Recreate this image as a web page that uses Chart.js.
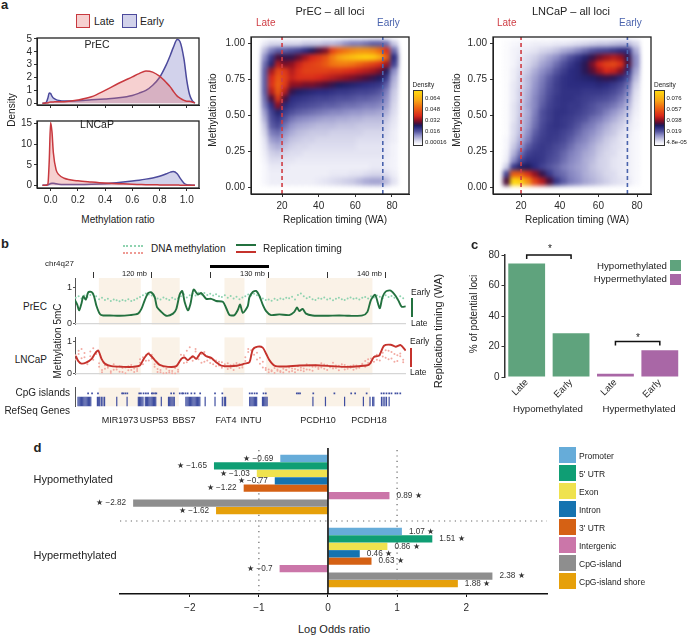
<!DOCTYPE html>
<html>
<head>
<meta charset="utf-8">
<script src="https://cdn.jsdelivr.net/npm/chart.js@4"></script>
<style>
  html, body { margin: 0; padding: 0; background: #fff; }
  #page { position: relative; width: 687px; height: 636px; overflow: hidden; font-family: "Liberation Sans", Arial, sans-serif; color: #222; }
  #page canvas { position: absolute; display: block; }
  .txt { position: absolute; white-space: nowrap; line-height: 1; }
  .block { position: absolute; }
</style>
</head>
<body>
<div id="page"></div>
<script>
// ---- panel a: density curves
const ratioGrid = [-0.06,-0.04,-0.03,-0.02,-0.01,0,0.01,0.02,0.04,0.06,0.1,0.2,0.3,0.4,0.5,0.6,0.65,0.7,0.75,0.8,0.85,0.88,0.9,0.93,0.95,0.98,1,1.02,1.04,1.06];
const precLate = [0,0.01,0.02,0.04,0.07,0.1,0.1,0.1,0.11,0.11,0.12,0.25,0.5,1.0,1.55,2.05,2.3,2.5,2.42,2.1,1.6,1.25,0.95,0.55,0.4,0.22,0.15,0.15,0.1,0.02];
const precEarly = [0,0.02,0.1,0.4,0.8,0.75,0.55,0.4,0.28,0.22,0.17,0.2,0.26,0.33,0.42,0.6,0.78,1.0,1.4,2.0,3.0,3.75,4.3,4.95,4.8,3.4,1.8,0.7,0.2,0.02];
const lncapLate = [0,0,0,0.3,6,15.3,13,8,3.8,2.6,1.7,1.1,0.8,0.55,0.4,0.25,0.2,0.15,0.12,0.1,0.08,0.06,0.05,0.05,0.04,0.03,0.03,0.02,0.01,0];
const lncapEarly = [0,0.02,0.05,0.1,0.25,0.45,0.5,0.5,0.35,0.25,0.2,0.2,0.25,0.4,0.7,1.05,1.25,1.5,1.8,2.2,2.8,3.2,3.35,2.8,1.8,0.5,0.15,0.05,0.01,0];

// ---- panel a: density maps, colour position 0-100, top row is ratio 1.00
const mapRatios = [1,0.95,0.9,0.85,0.8,0.75,0.7,0.65,0.6,0.55,0.5,0.45,0.4,0.35,0.3,0.25,0.2,0.15,0.1,0.05,0];
const precTiming = [8,12,16,20,24,28,32,36,40,44,48,52,56,60,64,68,72,76,80,84];
const precMap = [
  [5,8,8,8,8,8,10,10,10,12,12,14,18,20,20,22,24,24,22,10],
  [12,20,24,24,26,28,32,36,40,44,60,68,72,76,78,78,76,70,56,22],
  [18,30,40,38,38,42,48,54,58,64,74,82,88,92,96,98,96,86,68,32],
  [22,34,50,44,46,52,58,60,62,66,72,74,74,72,68,64,60,56,48,28],
  [24,48,62,58,50,56,60,60,60,60,58,58,56,54,52,50,48,44,36,18],
  [24,54,66,60,52,56,56,56,54,52,50,48,46,44,42,40,38,36,30,14],
  [24,56,68,58,46,46,44,44,42,40,38,36,35,34,33,32,31,30,24,12],
  [24,50,66,50,38,35,34,33,32,32,31,30,30,29,28,28,27,25,20,10],
  [22,40,58,40,32,31,30,29,28,28,27,26,26,25,24,24,23,22,18,9],
  [20,32,46,33,30,28,27,26,25,24,24,23,22,22,21,20,20,19,16,8],
  [16,28,34,29,26,24,23,22,21,20,19,19,18,17,17,16,16,15,13,7],
  [13,26,30,25,21,19,18,17,16,15,15,14,14,13,13,12,12,12,10,6],
  [10,24,27,21,17,15,14,13,12,12,12,11,11,11,10,10,10,10,8,5],
  [8,20,22,17,14,12,11,10,10,10,9,9,9,9,9,8,8,8,7,4],
  [6,16,18,14,11,10,9,9,8,8,8,8,8,8,7,7,7,7,6,4],
  [5,12,14,11,9,8,8,7,7,7,7,7,7,7,6,6,6,6,5,3],
  [4,9,10,8,7,7,6,6,6,6,6,6,6,6,6,6,6,6,5,3],
  [3,7,7,6,6,5,5,5,5,5,5,5,5,5,5,5,5,5,4,3],
  [2,5,5,5,4,4,4,4,4,4,4,4,4,4,4,4,5,5,4,3],
  [2,4,4,4,4,4,4,4,4,4,5,5,5,6,6,7,8,8,7,4],
  [2,4,4,4,4,4,4,4,5,6,7,8,9,10,12,14,15,15,12,6]
];
const lncapTiming = [10,14,18,22,26,30,34,38,42,46,50,54,58,62,66,70,74,78,82];
const lncapMap = [
  [1,2,3,3,4,4,4,5,5,6,7,8,9,10,10,11,12,12,8],
  [1,3,4,5,6,8,9,11,14,16,19,22,25,27,28,30,32,32,14],
  [1,3,5,7,9,12,15,18,22,26,30,34,38,43,47,50,47,38,18],
  [1,3,6,8,11,15,18,22,26,30,33,37,44,54,60,62,56,40,18],
  [1,4,7,10,14,18,21,25,29,32,33,37,41,48,54,52,45,33,15],
  [1,4,8,12,16,20,24,28,31,32,33,34,35,37,38,37,33,27,12],
  [1,5,8,12,17,21,25,29,31,32,32,32,32,33,32,30,27,22,9],
  [1,5,9,13,18,22,26,29,31,31,31,30,30,30,29,27,24,19,7],
  [1,5,9,14,19,23,27,30,31,31,30,29,28,27,26,24,21,16,6],
  [1,6,10,15,19,24,28,30,31,30,30,28,26,24,23,21,18,13,5],
  [1,6,10,14,20,26,29,31,31,30,29,27,25,23,20,17,14,10,4],
  [1,6,11,15,21,26,29,31,30,29,27,25,22,20,17,14,11,8,3],
  [1,7,11,16,22,27,30,31,30,28,25,22,20,17,14,11,9,6,3],
  [1,7,12,18,24,28,30,30,28,26,23,20,18,15,12,10,7,5,2],
  [2,8,14,20,26,29,30,29,27,24,21,19,16,13,10,8,6,4,2],
  [2,10,17,24,28,30,29,27,25,22,19,17,14,11,9,7,6,4,2],
  [3,13,22,28,30,30,28,26,23,20,18,15,13,10,8,7,5,4,2],
  [4,18,27,31,31,30,27,25,22,19,17,14,12,9,8,6,5,4,2],
  [9,30,35,36,32,28,25,23,20,18,16,14,11,9,8,6,5,4,2],
  [28,66,66,56,46,38,30,24,22,19,17,14,12,10,8,7,5,4,2],
  [40,100,96,78,60,50,40,30,24,20,18,15,13,11,9,7,6,5,2]
];
const lateTiming = 20;
const earlyTiming = 75;

// ---- panel b: genome tracks, positions in Mb
const precTimingMb = [113.44,113.63,113.8,114,114.15,114.37,114.57,114.86,115.06,115.28,115.57,115.85,116.42,117.27,118.12,118.83,119.12,119.4,119.69,119.97,120.26,120.45,120.82,121.25,121.82,122.1,122.39,122.61,122.81,123.1,123.3,123.58,123.95,124.23,124.66,125.09,125.51,126.08,126.37,126.65,127.08,127.36,127.56,127.79,128.21,128.35,128.64,128.92,129.21,129.49,129.78,130.2,130.91,131.76,132.19,132.42,132.62,132.9,133.19,133.75,134.89,136.03,136.88,138.02,138.44,138.73,139.1,139.49,139.72,140,140.43,140.86,141.14,141.37,141.71];
const precTimingVal = [0.65,0.53,0.37,0.57,0.76,0.67,0.87,0.88,0.77,0.49,0.27,0.23,0.23,0.22,0.24,0.28,0.41,0.65,0.85,0.87,0.73,0.46,0.33,0.22,0.28,0.41,0.81,0.91,0.61,0.37,0.53,0.95,0.81,0.85,0.69,0.69,0.63,0.61,0.43,0.24,0.24,0.38,0.53,0.3,0.49,0.73,0.88,0.91,0.77,0.53,0.35,0.24,0.26,0.24,0.33,0.45,0.35,0.41,0.28,0.23,0.22,0.23,0.22,0.23,0.33,0.65,0.8,0.43,0.73,0.89,0.92,0.77,0.61,0.47,0.48];
const lncapTimingMb = [113.52,113.72,114,114.43,114.86,115.14,115.42,115.71,115.99,116.56,117.56,118.41,118.98,119.32,119.69,119.97,120.26,120.68,121.39,122.1,122.53,122.81,123.1,123.52,123.81,124.23,124.66,125.09,125.51,125.94,126.65,127.36,127.93,128.35,128.64,129.06,129.49,129.78,130.06,130.49,131.2,132.62,134.04,135.46,136.6,137.73,138.58,139.01,139.44,139.86,140.43,140.86,141.28,141.71];
const lncapTimingVal = [0.55,0.4,0.32,0.36,0.47,0.63,0.73,0.47,0.32,0.24,0.22,0.22,0.26,0.47,0.63,0.55,0.43,0.28,0.22,0.24,0.47,0.51,0.43,0.55,0.47,0.67,0.55,0.5,0.36,0.26,0.24,0.26,0.32,0.36,0.76,0.85,0.82,0.63,0.43,0.26,0.23,0.26,0.27,0.24,0.22,0.24,0.29,0.53,0.57,0.88,0.91,0.85,0.9,0.73];
// one methylation site every 0.25 Mb from 113.5
const firstSiteMb = 113.5;
const siteStepMb = 0.25;
const precMeth = [0.72,0.76,0.70,0.78,0.74,0.80,0.83,0.76,0.68,0.72,0.66,0.69,0.63,0.67,0.65,0.62,0.66,0.64,0.68,0.63,0.66,0.70,0.74,0.79,0.84,0.81,0.78,0.74,0.70,0.67,0.73,0.69,0.66,0.72,0.68,0.71,0.76,0.82,0.73,0.79,0.84,0.78,0.86,0.81,0.85,0.80,0.83,0.78,0.82,0.76,0.74,0.79,0.72,0.77,0.70,0.75,0.68,0.73,0.76,0.81,0.78,0.83,0.79,0.74,0.70,0.66,0.67,0.64,0.69,0.66,0.70,0.68,0.72,0.71,0.75,0.67,0.80,0.84,0.76,0.71,0.74,0.68,0.66,0.71,0.69,0.73,0.67,0.70,0.65,0.69,0.72,0.68,0.66,0.70,0.73,0.69,0.71,0.67,0.72,0.74,0.70,0.76,0.73,0.78,0.75,0.71,0.79,0.74,0.77,0.72,0.69,0.76,0.71];
const lncapMethA = [0.58,0.72,0.49,0.65,0.38,0.55,0.80,0.62,0.33,0.12,0.27,0.19,0.08,0.30,0.14,0.24,0.06,0.20,0.11,0.28,0.17,0.09,0.35,0.52,0.41,0.66,0.48,0.30,0.15,0.05,0.22,0.03,0.10,0.02,0.18,0.07,0.44,0.58,0.36,0.83,0.52,0.70,0.46,0.62,0.38,0.55,0.48,0.30,0.42,0.26,0.36,0.22,0.33,0.18,0.29,0.24,0.31,0.20,0.52,0.68,0.74,0.60,0.45,0.32,0.20,0.12,0.14,0.08,0.18,0.10,0.06,0.16,0.12,0.20,0.09,0.15,0.24,0.11,0.17,0.30,0.13,0.22,0.27,0.19,0.33,0.16,0.28,0.21,0.35,0.18,0.25,0.30,0.14,0.23,0.19,0.27,0.17,0.24,0.32,0.40,0.46,0.35,0.52,0.44,0.58,0.66,0.50,0.72,0.48,0.62,0.40,0.55,0.36];
const lncapMethB = [0.45,0.62,0.78,0.52,0.30,0.70,0.44,0.68,0.22,0.05,0.16,0.25,0.03,0.13,0.21,0.07,0.18,0.02,0.24,0.12,0.06,0.15,0.46,0.30,0.58,0.42,0.60,0.22,0.06,0.12,0.02,0.16,0.04,0.09,0.01,0.13,0.60,0.34,0.72,0.48,0.41,0.78,0.56,0.35,0.68,0.42,0.34,0.44,0.24,0.38,0.19,0.30,0.15,0.27,0.12,0.34,0.18,0.26,0.40,0.78,0.58,0.82,0.66,0.50,0.38,0.18,0.05,0.11,0.03,0.14,0.09,0.04,0.13,0.07,0.17,0.05,0.12,0.19,0.08,0.14,0.26,0.10,0.22,0.15,0.20,0.29,0.12,0.24,0.17,0.26,0.11,0.21,0.28,0.16,0.24,0.13,0.26,0.19,0.28,0.22,0.34,0.48,0.38,0.60,0.42,0.54,0.74,0.46,0.68,0.38,0.58,0.64,0.44];
const bandStartMb = [115.48,120,126.22,129.78];
const bandEndMb = [119.06,122.39,127.93,138.87];
const cpgIslandMb = [114.57,114.91,115.42,117.5,117.61,117.78,117.95,118.98,119.12,119.35,119.55,119.74,120.06,120.17,120.34,120.45,121.73,121.96,122.47,122.67,122.76,122.96,123.15,123.47,123.75,124.23,125.51,126.14,128.5,128.7,128.92,129.12,129.69,129.89,132.56,132.7,132.84,133.98,135.8,137.25,137.59,138.58,139.86,140.06,140.29,140.52,140.72,141.06,141.23,141.48];
const refseqGeneMb = [113.7,113.8,113.9,114,114.1,114.2,114.3,114.4,114.5,114.6,114.7,114.8,115.37,115.48,115.57,115.71,115.85,115.99,117.04,117.93,118.9,119,119.1,119.2,119.3,119.5,119.6,119.7,119.8,119.9,120,120.1,120.2,120.3,120.4,120.88,121.5,121.6,121.7,121.8,121.9,122,123,123.1,123.2,123.3,123.4,123.5,123.6,123.7,123.8,123.9,124,124.1,124.2,124.66,125.51,126.14,126.31,126.42,128.5,128.6,128.7,128.8,128.9,129,129.1,129.6,129.7,129.8,129.9,130,133.95,135.03,136.68,138.3,138.87,139.1,139.2,139.86,140,140.15,140.29,140.52];

// ---- panel c
const lociGroups = ['Late', 'Early', 'Late', 'Early'];
const lociPercent = [74.5, 28.7, 2.2, 17.5];

// ---- panel d
const methGroups = ['Hypomethylated', 'Hypermethylated'];
const featureNames = ['Promoter', "5' UTR", 'Exon', 'Intron', "3' UTR", 'Intergenic', 'CpG-island', 'CpG-island shore'];
const hypoOdds = [-0.69, -1.65, -1.03, -0.77, -1.22, 0.89, -2.82, -1.62];
const hyperOdds = [1.07, 1.51, 0.86, 0.46, 0.63, -0.7, 2.38, 1.88];
const featureColors = ['#66acd9', '#0f9e74', '#efe24e', '#1573b0', '#d56114', '#cb76a9', '#8e8e8e', '#e6a00a'];
const oddsTicks = [-2, -1, 0, 1, 2];

const page = document.getElementById('page');
const FONT = '"Liberation Sans", Arial, sans-serif';
const INK = '#2a2a2a';
const LATE_RED = '#c8393f';
const EARLY_BLUE = '#4c4a9c';

Chart.defaults.font.family = FONT;
Chart.defaults.color = INK;
Chart.defaults.animation = false;
Chart.defaults.responsive = false;
Chart.defaults.events = [];
Chart.defaults.plugins.legend.display = false;
Chart.defaults.plugins.tooltip.enabled = false;

function addText(str, x, y, opt) {
  opt = opt || {};
  const el = document.createElement('div');
  el.className = 'txt';
  el.textContent = str;
  el.style.left = x + 'px';
  el.style.top = y + 'px';
  el.style.fontSize = (opt.size || 10) + 'px';
  if (opt.color) el.style.color = opt.color;
  if (opt.bold) el.style.fontWeight = 'bold';
  const ax = opt.align === 'center' ? '-50%' : opt.align === 'right' ? '-100%' : '0';
  el.style.transform = `translate(${ax}, -50%)` + (opt.rot ? ` rotate(${opt.rot}deg)` : '');
  page.appendChild(el);
}

function addBlock(l, t, w, h, style) {
  const el = document.createElement('div');
  el.className = 'block';
  el.style.left = l + 'px';
  el.style.top = t + 'px';
  el.style.width = w + 'px';
  el.style.height = h + 'px';
  Object.assign(el.style, style);
  page.appendChild(el);
  return el;
}

function mount(box, config, parent) {
  const c = document.createElement('canvas');
  c.width = box.r - box.l;
  c.height = box.b - box.t;
  c.style.left = box.l + 'px';
  c.style.top = box.t + 'px';
  (parent || page).appendChild(c);
  return new Chart(c, config);
}

// pins the plot area: box is the canvas, plot the wanted chartArea, both in page pixels
const yFit = (box, plot) => s => { s.width = plot.l - box.l; };
const xFit = (box, plot) => s => { s.height = box.b - plot.b; };
const xFitTop = (box, plot) => s => { s.height = plot.t - box.t; };
const pad = (box, plot) => ({ top: plot.t - box.t, right: box.r - plot.r, left: 0, bottom: 0 });

const frameLine = {
  id: 'frameLine',
  afterDatasetsDraw(chart) {
    const a = chart.chartArea, ctx = chart.ctx;
    ctx.save();
    ctx.strokeStyle = '#222';
    ctx.lineWidth = 1.3;
    ctx.strokeRect(a.left, a.top, a.right - a.left, a.bottom - a.top);
    ctx.restore();
  }
};

const axisGrid = { drawOnChartArea: false, tickLength: 3, color: '#333' };
const axisBorder = { color: '#222', width: 1 };

// ---------- panel a, density curves
function toXY(xs, ys) { return xs.map((x, i) => ({ x: x, y: ys[i] })); }

function densityChart(box, plot, late, early, yRange, yStep, showX) {
  return mount(box, {
    type: 'scatter',
    data: {
      datasets: [
        { data: toXY(ratioGrid, late), showLine: true, pointRadius: 0, borderColor: LATE_RED, borderWidth: 1.5, backgroundColor: 'rgba(226,110,110,0.32)', fill: { value: 0 }, cubicInterpolationMode: 'monotone' },
        { data: toXY(ratioGrid, early), showLine: true, pointRadius: 0, borderColor: EARLY_BLUE, borderWidth: 1.5, backgroundColor: 'rgba(105,105,190,0.3)', fill: { value: 0 }, cubicInterpolationMode: 'monotone' }
      ]
    },
    options: {
      layout: { padding: pad(box, plot) },
      scales: {
        x: { type: 'linear', min: -0.1, max: 1.09, afterFit: xFit(box, plot), grid: axisGrid, border: axisBorder,
             ticks: { display: showX, stepSize: 0.2, includeBounds: false, padding: 3, maxRotation: 0, font: { size: 10 }, callback: v => v.toFixed(1) } },
        y: { min: yRange[0], max: yRange[1], afterFit: yFit(box, plot), grid: axisGrid, border: axisBorder,
             ticks: { autoSkip: false, stepSize: yStep, includeBounds: false, padding: 2, font: { size: 10 } } }
      }
    },
    plugins: [frameLine]
  });
}

densityChart({ l: 15, t: 30, r: 202, b: 113 }, { l: 37, t: 34, r: 199, b: 107 }, precLate, precEarly, [-0.14, 5.07], 1, false);
densityChart({ l: 15, t: 113, r: 202, b: 212 }, { l: 37, t: 114, r: 199, b: 188 }, lncapLate, lncapEarly, [-0.66, 15.66], 5, true);

addText('a', 1, 4, { size: 13, bold: true });
addBlock(76, 14, 14, 14, { background: 'rgba(226,110,110,0.32)', border: '1.5px solid ' + LATE_RED, boxSizing: 'border-box' });
addText('Late', 94, 20.5, { size: 10.5 });
addBlock(122, 14, 15, 14, { background: 'rgba(105,105,190,0.3)', border: '1.5px solid ' + EARLY_BLUE, boxSizing: 'border-box' });
addText('Early', 140, 20.5, { size: 10.5 });
addText('PrEC', 97, 44, { size: 10.5, align: 'center' });
addText('LNCaP', 97, 124, { size: 10.5, align: 'center' });
addText('Density', 12, 110, { size: 10, align: 'center', rot: -90 });
addText('Methylation ratio', 118, 220, { size: 10, align: 'center' });

// ---------- panel a, density maps
const rampStops = [
  [0, '#ffffff'], [3, '#f3f3fa'], [6, '#e4e4f2'], [10, '#c9c9e4'], [18, '#8f8fc7'], [25, '#55559f'],
  [32, '#2c2c80'], [36, '#1e1b5e'], [40, '#4a0f3a'], [46, '#8f1122'], [54, '#d8281b'], [70, '#ef6a12'],
  [82, '#f7a415'], [100, '#ffd80e']
];
function rgb(hex) { return [1, 3, 5].map(i => parseInt(hex.substr(i, 2), 16)); }
function rampColor(t) {
  for (let i = 1; i < rampStops.length; i++) {
    if (t <= rampStops[i][0]) {
      const a = rampStops[i - 1], b = rampStops[i];
      const k = (t - a[0]) / (b[0] - a[0]);
      const ca = rgb(a[1]), cb = rgb(b[1]);
      return `rgb(${ca.map((v, j) => Math.round(v + (cb[j] - v) * k)).join(',')})`;
    }
  }
  return rampStops[rampStops.length - 1][1];
}
const rampCss = 'linear-gradient(to top,' + rampStops.map(s => `${s[1]} ${s[0]}%`).join(',') + ')';

function densityMap(plot, box, timing, rows, xRange, title, titleX, lateX, earlyX, yName) {
  // the cells live on their own blurred canvas under the axes
  const holder = addBlock(plot.l, plot.t, plot.r - plot.l, plot.b - plot.t, { overflow: 'hidden' });
  const cells = [], colors = [];
  rows.forEach((row, r) => row.forEach((v, c) => {
    cells.push({ x: timing[c], y: mapRatios[r] });
    colors.push(rampColor(v));
  }));
  const heat = mount({ l: 0, t: 0, r: plot.r - plot.l, b: plot.b - plot.t }, {
    type: 'scatter',
    data: { datasets: [{ data: cells, pointStyle: 'rect', pointRadius: 6, pointBorderWidth: 0, pointBackgroundColor: colors, clip: false }] },
    options: { scales: {
      x: { type: 'linear', display: false, min: xRange[0], max: xRange[1] },
      y: { display: false, min: -0.047, max: 1.047 }
    } }
  }, holder);
  heat.canvas.style.filter = 'blur(1.9px)';

  const guide = (x, color) => ({ data: [{ x: x, y: -0.047 }, { x: x, y: 1.047 }], showLine: true, pointRadius: 0, borderColor: color, borderWidth: 1.6, borderDash: [4, 3] });
  mount(box, {
    type: 'scatter',
    data: { datasets: [guide(lateTiming, '#cf3d44'), guide(earlyTiming, '#4a63ad')] },
    options: {
      layout: { padding: pad(box, plot) },
      scales: {
        x: { type: 'linear', min: xRange[0], max: xRange[1], afterFit: xFit(box, plot), grid: axisGrid, border: axisBorder,
             ticks: { stepSize: 20, includeBounds: false, padding: 3, maxRotation: 0, font: { size: 10 } } },
        y: { min: -0.047, max: 1.047, afterFit: yFit(box, plot), grid: axisGrid, border: axisBorder,
             ticks: { stepSize: 0.25, includeBounds: false, padding: 3, font: { size: 10 }, callback: v => v.toFixed(2) } }
      }
    },
    plugins: [frameLine]
  });
  addText(title, titleX, 11, { size: 11, align: 'center' });
  addText('Late', lateX, 23, { size: 10, color: '#cf3d44' });
  addText('Early', earlyX, 23, { size: 10, color: '#4a63ad' });
  addText('Replication timing (WA)', (plot.l + plot.r) / 2 + 5, 220, { size: 10, align: 'center' });
  addText('Methylation ratio', yName, 110, { size: 10, align: 'center', rot: -90 });
}

densityMap({ l: 251, t: 32, r: 409, b: 194 }, { l: 216, t: 28, r: 412, b: 212 }, precTiming, precMap, [3.06, 89.3], 'PrEC \u2013 all loci', 330, 256, 377, 213);
densityMap({ l: 493, t: 32, r: 651, b: 194 }, { l: 460, t: 28, r: 654, b: 212 }, lncapTiming, lncapMap, [5.5, 87.2], 'LNCaP \u2013 all loci', 571, 497, 619, 457);

function colorBar(l, labels) {
  addBlock(l, 90, 10.5, 56, { background: rampCss, border: '1px solid #333', boxSizing: 'border-box' });
  addText('Density', l, 85, { size: 6.5 });
  labels.forEach((s, i) => addText(s, l + 12.5, 97.5 + i * 11.2, { size: 6 }));
}
colorBar(412.5, ['0.064', '0.048', '0.032', '0.016', '0.00016']);
colorBar(654, ['0.076', '0.057', '0.038', '0.019', '4.8e-05']);

// ---------- panel b
const bandFill = {
  id: 'bandFill',
  beforeDatasetsDraw(chart) {
    const a = chart.chartArea, ctx = chart.ctx, x = chart.scales.x;
    ctx.save();
    ctx.fillStyle = '#faf2e7';
    bandStartMb.forEach((s, i) => {
      const x0 = x.getPixelForValue(s), x1 = x.getPixelForValue(bandEndMb[i]);
      ctx.fillRect(x0, a.top, x1 - x0, a.bottom - a.top);
    });
    ctx.restore();
  }
};

const mbRange = { min: 113.44, max: 141.74 };
const baseline = { data: [{ x: mbRange.min, y: 0 }, { x: mbRange.max, y: 0 }], showLine: true, pointRadius: 0, borderColor: '#d6d6d6', borderWidth: 1.5 };
const siteMb = values => values.map((v, i) => ({ x: firstSiteMb + i * siteStepMb, y: v }));
const dots = (values, color) => ({ data: siteMb(values), pointRadius: 1, pointBorderWidth: 0, pointBackgroundColor: color });
const timingLine = (xs, ys, color) => ({ data: toXY(xs, ys), showLine: true, pointRadius: 0, borderColor: color, borderWidth: 1.9, tension: 0.25 });
const trackY = (box, plot, min, max) => ({
  min: min, max: max, afterFit: yFit(box, plot), grid: { drawOnChartArea: false, tickLength: 2, color: '#555' }, border: { color: '#555', width: 1 },
  ticks: { stepSize: 1, includeBounds: false, padding: 1, font: { size: 9 } }
});

const bTopBox = { l: 58, t: 265, r: 410, b: 331 }, bTopPlot = { l: 75, t: 278, r: 407, b: 331 };
mount(bTopBox, {
  type: 'scatter',
  data: { datasets: [timingLine(precTimingMb, precTimingVal, '#23713f'), dots(precMeth, '#8fd3b0'), baseline] },
  options: {
    layout: { padding: { top: 0, right: bTopBox.r - bTopPlot.r, left: 0, bottom: 0 } },
    scales: {
      x: { type: 'linear', position: 'top', min: mbRange.min, max: mbRange.max, afterFit: xFitTop(bTopBox, bTopPlot),
           grid: { drawOnChartArea: false, tickLength: 6, color: '#333' }, border: { display: false },
           ticks: { display: false, stepSize: 5, includeBounds: false } },
      y: trackY(bTopBox, bTopPlot, -0.024, 1.268)
    }
  },
  plugins: [bandFill]
});

const bMidBox = { l: 58, t: 331, r: 410, b: 381 }, bMidPlot = { l: 75, t: 331, r: 407, b: 381 };
mount(bMidBox, {
  type: 'scatter',
  data: { datasets: [timingLine(lncapTimingMb, lncapTimingVal, '#c5322c'), dots(lncapMethA, '#f2aaa2'), dots(lncapMethB, '#f2aaa2'), baseline] },
  options: {
    layout: { padding: { top: 0, right: bMidBox.r - bMidPlot.r, left: 0, bottom: 0 } },
    scales: {
      x: { type: 'linear', display: false, min: mbRange.min, max: mbRange.max },
      y: trackY(bMidBox, bMidPlot, -0.023, 1.14)
    }
  },
  plugins: [bandFill]
});

const bGeneBox = { l: 58, t: 381, r: 410, b: 413 }, bGenePlot = { l: 75, t: 381, r: 407, b: 413 };
const cpgLevel = 0.69, geneLevel = 0.22;
const GENE_BLUE = '#3f4ea0';
mount(bGeneBox, {
  type: 'scatter',
  data: { datasets: [
    { data: cpgIslandMb.map(m => ({ x: m, y: cpgLevel })), pointStyle: 'rect', pointRadius: 1.2, pointBorderWidth: 0, pointBackgroundColor: GENE_BLUE },
    { data: refseqGeneMb.map(m => ({ x: m, y: geneLevel })), pointStyle: 'line', pointRotation: 90, pointRadius: 5.5, pointBorderWidth: 1.2, pointBorderColor: GENE_BLUE }
  ] },
  options: {
    layout: { padding: { top: 0, right: bGeneBox.r - bGenePlot.r, left: 0, bottom: 0 } },
    scales: {
      x: { type: 'linear', display: false, min: mbRange.min, max: mbRange.max },
      y: { min: 0, max: 1, afterFit: yFit(bGeneBox, bGenePlot), grid: { display: false }, border: { color: '#555', width: 1 }, ticks: { display: false } }
    }
  },
  plugins: [bandFill]
});

addText('b', 1, 243, { size: 13, bold: true });
addBlock(123, 245, 20, 0, { borderTop: '2px dotted #8fd3b0' });
addBlock(123, 252, 20, 0, { borderTop: '2px dotted #ee9a94' });
addText('DNA methylation', 151, 249, { size: 10 });
addBlock(236, 244, 20, 2, { background: '#23713f' });
addBlock(236, 251, 20, 2, { background: '#c5322c' });
addText('Replication timing', 263, 249, { size: 10 });
addText('chr4q27', 45, 264, { size: 8 });
addBlock(210, 264.5, 59, 3, { background: '#000' });
addText('120 mb', 147, 273.5, { size: 7.5, align: 'right' });
addText('130 mb', 265, 273.5, { size: 7.5, align: 'right' });
addText('140 mb', 382, 273.5, { size: 7.5, align: 'right' });
addText('PrEC', 47, 307, { size: 10, align: 'right' });
addText('LNCaP', 47, 360, { size: 10, align: 'right' });
addText('Methylation 5mC', 58, 341, { size: 10, align: 'center', rot: -90 });
addText('CpG islands', 70, 393, { size: 10, align: 'right' });
addText('RefSeq Genes', 70, 411, { size: 10, align: 'right' });
[['MIR1973', 120], ['USP53', 154], ['BBS7', 184], ['FAT4', 226], ['INTU', 251], ['PCDH10', 318], ['PCDH18', 369]]
  .forEach(g => addText(g[0], g[1], 420, { size: 9, align: 'center' }));
addText('Early', 411, 292, { size: 8.5 });
addBlock(411, 298, 1.8, 19, { background: '#23713f' });
addText('Late', 411, 323, { size: 8.5 });
addText('Early', 410, 341, { size: 8.5 });
addBlock(410, 348, 1.8, 19, { background: '#c5322c' });
addText('Late', 410, 372, { size: 8.5 });
addText('Replication timing (WA)', 438, 331, { size: 11, align: 'center', rot: -90 });

// ---------- panel c
const cBox = { l: 470, t: 247, r: 687, b: 422 }, cPlot = { l: 504.5, t: 253, r: 682, b: 377 };
const bracket = (a, b, top, foot) => ({
  type: 'scatter', xAxisID: 'xb', clip: false,
  data: [{ x: a, y: foot }, { x: a, y: top }, { x: b, y: top }, { x: b, y: foot }],
  showLine: true, pointRadius: 0, borderColor: '#111', borderWidth: 1.5
});
mount(cBox, {
  type: 'bar',
  data: {
    labels: lociGroups,
    datasets: [
      bracket(0, 1, 80, 77.4),
      bracket(2, 3, 23.2, 20.6),
      { type: 'bar', data: lociPercent, backgroundColor: ['#5fa37d', '#5fa37d', '#a967a6', '#a967a6'], barPercentage: 0.83, categoryPercentage: 1, grouped: false }
    ]
  },
  options: {
    layout: { padding: pad(cBox, cPlot) },
    scales: {
      x: { afterFit: xFit(cBox, cPlot), grid: { display: false }, border: { display: false },
           ticks: { autoSkip: false, minRotation: 45, maxRotation: 45, padding: -8, font: { size: 9.5 } } },
      xb: { type: 'linear', display: false, offset: false, min: -0.5, max: 3.5 },
      y: { min: 0, max: 80, afterFit: yFit(cBox, cPlot), grid: { drawOnChartArea: false, tickLength: 3, color: '#333' }, border: { color: '#333', width: 1.5 },
           ticks: { stepSize: 20, padding: 2, font: { size: 10 } } }
    }
  }
});
addText('c', 471, 244, { size: 13, bold: true });
addText('% of potential loci', 474, 314, { size: 10, align: 'center', rot: -90 });
addText('*', 550, 249, { size: 10, align: 'center' });
addText('*', 638, 338, { size: 10, align: 'center' });
addText('Hypomethylated', 667, 266, { size: 9.7, align: 'right' });
addBlock(670, 260, 11, 10.5, { background: '#5fa37d' });
addText('Hypermethylated', 667, 279, { size: 9.7, align: 'right' });
addBlock(670, 274, 11, 10.5, { background: '#a967a6' });
addText('Hypomethylated', 548, 409, { size: 9.7, align: 'center' });
addText('Hypermethylated', 639, 409, { size: 9.7, align: 'center' });

// ---------- panel d
const oddsGuides = {
  id: 'oddsGuides',
  beforeDatasetsDraw(chart) {
    const a = chart.chartArea, ctx = chart.ctx, x = chart.scales.x;
    ctx.save();
    ctx.strokeStyle = '#666';
    ctx.lineWidth = 1.2;
    ctx.setLineDash([1.2, 4.2]);
    [-1, 1].forEach(v => {
      ctx.beginPath();
      ctx.moveTo(x.getPixelForValue(v), a.top + 2);
      ctx.lineTo(x.getPixelForValue(v), a.bottom - 3);
      ctx.stroke();
    });
    const mid = (a.top + a.bottom) / 2;
    ctx.beginPath();
    ctx.moveTo(a.left, mid);
    ctx.lineTo(a.right, mid);
    ctx.stroke();
    ctx.restore();
  },
  afterDatasetsDraw(chart) {
    const a = chart.chartArea, ctx = chart.ctx, x = chart.scales.x;
    ctx.save();
    // zero line
    ctx.strokeStyle = '#000';
    ctx.lineWidth = 1.5;
    ctx.beginPath();
    ctx.moveTo(x.getPixelForValue(0), a.top);
    ctx.lineTo(x.getPixelForValue(0), a.bottom);
    ctx.stroke();
    // value labels
    ctx.fillStyle = '#333';
    ctx.font = '8.2px ' + FONT;
    ctx.textBaseline = 'middle';
    chart.data.datasets.forEach((ds, i) => {
      chart.getDatasetMeta(i).data.forEach((bar, j) => {
        const v = ds.data[j];
        if (v < 0) {
          ctx.textAlign = 'right';
          ctx.fillText('\u2605 \u2212' + Math.abs(v), bar.x - 7, bar.y);
        } else {
          ctx.textAlign = 'left';
          ctx.fillText(v + ' \u2605', bar.x + 7, bar.y);
        }
      });
    });
    ctx.restore();
  }
};

const dBox = { l: 90, t: 448, r: 548, b: 622 }, dPlot = { l: 120, t: 448, r: 547, b: 594 };
mount(dBox, {
  type: 'bar',
  data: {
    labels: methGroups,
    datasets: featureNames.map((name, i) => ({
      label: name,
      data: [hypoOdds[i], hyperOdds[i]],
      backgroundColor: featureColors[i],
      barPercentage: 0.98,
      categoryPercentage: 0.816
    }))
  },
  options: {
    indexAxis: 'y',
    layout: { padding: { top: 0, right: dBox.r - dPlot.r, left: dPlot.l - dBox.l, bottom: 0 } },
    scales: {
      x: { type: 'linear', min: -3.01, max: 3.17, afterFit: xFit(dBox, dPlot),
           afterBuildTicks: s => { s.ticks = oddsTicks.map(v => ({ value: v })); },
           grid: { drawOnChartArea: false, tickLength: 3, color: '#111' }, border: { color: '#111', width: 1.6 },
           ticks: { padding: 5, maxRotation: 0, font: { size: 10 }, callback: v => String(v).replace('-', '\u2212') } },
      y: { display: false }
    }
  },
  plugins: [oddsGuides]
});
addText('d', 33.5, 447, { size: 13, bold: true });
addText(methGroups[0], 33.5, 479, { size: 11 });
addText(methGroups[1], 33.5, 555, { size: 11 });
addText('Log Odds ratio', 334, 629, { size: 11, align: 'center' });
featureNames.forEach((name, i) => {
  addBlock(559, 446.7 + i * 18, 17, 16.6, { background: featureColors[i] });
  addText(name, 579, 455.5 + i * 18, { size: 8.5 });
});
</script>
</body>
</html>
